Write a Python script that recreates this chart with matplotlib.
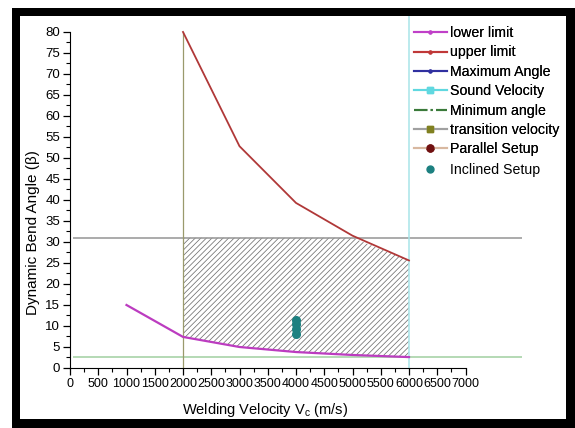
import matplotlib
matplotlib.use("Agg")
import matplotlib.pyplot as plt
import numpy as np
from matplotlib.lines import Line2D
from matplotlib.patches import Rectangle

plt.rcParams["font.family"] = ["Liberation Sans", "DejaVu Sans"]
plt.rcParams["hatch.linewidth"] = 0.55
plt.rcParams["hatch.color"] = "#707070"

# Data
vel_lower = [1000, 2000, 3000, 4000, 5000, 6000]
lower_limit = [15.0, 7.4, 5.0, 3.8, 3.1, 2.6]
vel_upper = [2000, 3000, 4000, 5000, 6000]
upper_limit = [80.0, 52.8, 39.3, 31.5, 25.6]
max_angle = 31.0
min_angle = 2.5
sound_velocity = 6000
transition_velocity = 2000
inclined_vel = [4000, 4000, 4000, 4000]
inclined_angle = [8.0, 9.2, 10.4, 11.5]

W, H = 575, 428
fig = plt.figure(figsize=(W / 100, H / 100), dpi=100)


def px(x, y):
    return x / W, 1 - y / H


# black frame around the whole picture
fig.add_artist(Rectangle(px(12, 428), (575 - 12) / W, (428 - 8) / H,
                         transform=fig.transFigure, facecolor="black",
                         edgecolor="none", zorder=0))
fig.add_artist(Rectangle(px(20, 419), (566 - 20) / W, (419 - 16) / H,
                         transform=fig.transFigure, facecolor="white",
                         edgecolor="none", zorder=0))

ax = fig.add_axes([70 / W, 1 - 368 / H, (522 - 70) / W, (368 - 16) / H])
ax.set_facecolor("none")

# hatched admissible region
x_fill = np.array(vel_upper)
low_interp = np.interp(x_fill, vel_lower, lower_limit)
top = np.minimum(np.array(upper_limit), max_angle)
ax.fill_between(x_fill, low_interp, top, facecolor="none", edgecolor="#707070",
                hatch="//////", linewidth=0)

ax.hlines(max_angle, 50, 8000, color="#959595", lw=1.1)
ax.hlines(min_angle, 50, 8000, color="#a0d0a0", lw=1.1)
ax.vlines(transition_velocity, 0, 80, color="#9a9a6c", lw=0.9)
ax.axvline(sound_velocity, color="#a8e4e8", lw=1.1)

ax.plot(vel_lower, lower_limit, color="#bc3cc0", lw=1.6)
ax.plot(vel_upper, upper_limit, color="#b03838", lw=1.3)
ax.scatter(inclined_vel, inclined_angle, s=30, color="#1c8080", zorder=5)

ax.set_xlim(0, 8000)
ax.set_ylim(0, 83.8)
ax.spines["top"].set_visible(False)
ax.spines["right"].set_visible(False)
ax.spines["left"].set_bounds(0, 80)
ax.spines["bottom"].set_bounds(0, 7000)
ax.set_xticks(np.arange(0, 7001, 500))
ax.set_xticks(np.arange(250, 7000, 500), minor=True)
ax.set_yticks(np.arange(0, 81, 5))
ax.set_yticks(np.arange(2.5, 80, 5), minor=True)
ax.tick_params(which="major", length=5, width=0.9, pad=2)
ax.tick_params(axis="x", which="major", labelsize=9)
ax.tick_params(axis="y", which="major", labelsize=9.5)
ax.tick_params(which="minor", length=3, width=0.8)
ax.set_xlabel("Welding Velocity V$_{\\mathregular{c}}$ (m/s)", fontsize=10.5)
ax.set_ylabel("Dynamic Bend Angle (β)", fontsize=11)
ax.xaxis.set_label_coords(0.431, -0.095)
ax.yaxis.set_label_coords(-0.066, 0.384)

handles = [
    Line2D([], [], color="#c040c8", marker=".", markersize=4),
    Line2D([], [], color="#c03838", marker=".", markersize=4),
    Line2D([], [], color="#3030a0", marker=".", markersize=4),
    Line2D([], [], color="#60d8e0", marker="s", markersize=5),
    Line2D([], [], color="#3a7a3a", ls="-."),
    Line2D([], [], color="#a0a0a0", marker="s", markersize=5,
           markerfacecolor="#808020", markeredgecolor="#808020"),
    Line2D([], [], color="#d8b8a0", marker="o", markersize=5,
           markerfacecolor="#701010", markeredgecolor="#701010"),
]
labels = ["lower limit", "upper limit", "Maximum Angle", "Sound Velocity",
          "Minimum angle", "transition velocity", "Parallel Setup"]
leg = fig.legend(handles, labels, loc="upper left", bbox_to_anchor=px(407, 19),
                 frameon=False, fontsize=10.2, handlelength=2.3,
                 handletextpad=0.2, labelspacing=0.38, borderpad=0)
fig.add_artist(leg)
fig.legend([Line2D([], [], ls="none", marker="o", markersize=5, color="#1c8080")],
           ["Inclined Setup"], loc="upper left", bbox_to_anchor=px(407, 156),
           frameon=False, fontsize=10.2, handlelength=2.3, handletextpad=0.2,
           borderpad=0)

fig.savefig("out.png", dpi=100)
